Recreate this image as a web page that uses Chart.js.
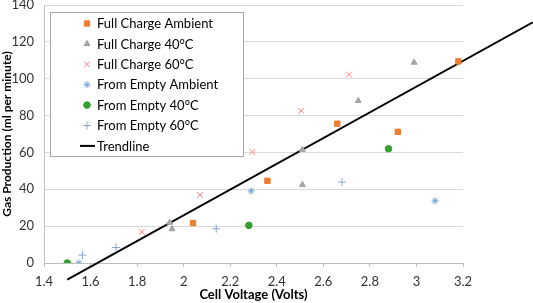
<!DOCTYPE html>
<html>
<head>
<meta charset="utf-8">
<script src="https://cdn.jsdelivr.net/npm/chart.js@4/dist/chart.umd.min.js"></script>
<style>
  html, body { margin: 0; padding: 0; background: #fff; overflow: hidden; }
</style>
</head>
<body>
<canvas id="gasChart" width="533" height="303"></canvas>
<script>
// series: cell voltage (x) and gas production (y)
const fullChargeAmbientV = [2.04, 2.36, 2.66, 2.92, 3.18];
const fullChargeAmbientGas = [21.7, 44.6, 75.6, 71.2, 109.4];
const fullCharge40V = [1.94, 1.95, 2.51, 2.51, 2.75, 2.99];
const fullCharge40Gas = [22, 18.4, 61.5, 42.4, 88, 108.8];
const fullCharge60V = [1.82, 2.07, 2.295, 2.505, 2.71];
const fullCharge60Gas = [16.8, 37, 60.2, 82.6, 102.3];
const fromEmptyAmbientV = [1.55, 2.29, 3.08];
const fromEmptyAmbientGas = [0, 39.1, 33.7];
const fromEmpty40V = [1.50, 2.28, 2.88];
const fromEmpty40Gas = [0, 20.4, 62];
const fromEmpty60V = [1.565, 1.71, 2.14, 2.68];
const fromEmpty60Gas = [4.3, 8.4, 18.6, 43.9];
const trendV = [1.5, 3.5];
const trendGas = [-9, 130.6];

const xTicks = [1.4, 1.6, 1.8, 2.0, 2.2, 2.4, 2.6, 2.8, 3.0, 3.2];
const yTicks = [0, 20, 40, 60, 80, 100, 120, 140];

const FONT = 'Lato, "Liberation Sans", sans-serif';

function pts(xs, ys) {
    return xs.map((x, i) => ({ x: x, y: ys[i] }));
}

function markerSet(label, xs, ys, color, style, radius, border) {
    return {
        label: label,
        data: pts(xs, ys),
        showLine: false,
        pointStyle: style,
        pointRadius: radius,
        pointHoverRadius: radius,
        pointBackgroundColor: color,
        pointBorderColor: color,
        pointBorderWidth: border,
    };
}

const datasets = [
    markerSet('Full Charge Ambient', fullChargeAmbientV, fullChargeAmbientGas, '#ed7d31', 'rect', 3.8, 1),
    markerSet('Full Charge 40°C', fullCharge40V, fullCharge40Gas, '#a5a5a5', 'triangle', 3.5, 1),
    markerSet('Full Charge 60°C', fullCharge60V, fullCharge60Gas, '#ff7c80', 'crossRot', 4, 1),
    markerSet('From Empty Ambient', fromEmptyAmbientV, fromEmptyAmbientGas, '#6f9fd8', 'star', 3.5, 1),
    markerSet('From Empty 40°C', fromEmpty40V, fromEmpty40Gas, '#33a02c', 'circle', 3.3, 1),
    markerSet('From Empty 60°C', fromEmpty60V, fromEmpty60Gas, '#8aa4d0', 'cross', 4, 1),
    {
        label: 'Trendline',
        data: pts(trendV, trendGas),
        showLine: true,
        borderColor: '#000',
        borderWidth: 2,
        pointRadius: 0,
        clip: false,
    }
];

// legend box sitting inside the plot, like the original
const boxLegend = {
    id: 'boxLegend',
    afterDraw(chart) {
        const ctx = chart.ctx;
        ctx.save();
        ctx.fillStyle = '#fff';
        ctx.fillRect(50.5, 12.5, 193, 144);
        ctx.strokeStyle = '#a6a6a6';
        ctx.lineWidth = 1;
        ctx.strokeRect(50.5, 12.5, 193, 144);
        ctx.font = '13px ' + FONT;
        ctx.textBaseline = 'middle';
        chart.data.datasets.forEach((ds, i) => {
            const y = 23.5 + i * 20.4;
            if (ds.showLine) {
                ctx.strokeStyle = ds.borderColor;
                ctx.lineWidth = 2;
                ctx.beginPath();
                ctx.moveTo(80, y);
                ctx.lineTo(95, y);
                ctx.stroke();
            } else {
                ctx.fillStyle = ds.pointBackgroundColor;
                ctx.strokeStyle = ds.pointBorderColor;
                ctx.lineWidth = ds.pointBorderWidth;
                Chart.helpers.drawPoint(ctx, {
                    pointStyle: ds.pointStyle,
                    radius: ds.pointRadius,
                    borderWidth: ds.pointBorderWidth,
                    rotation: 0
                }, 87, y);
            }
            ctx.fillStyle = '#000';
            ctx.fillText(ds.label, 97, y + 0.5);
        });
        ctx.restore();
    }
};

new Chart(document.getElementById('gasChart'), {
    type: 'scatter',
    data: { datasets: datasets },
    plugins: [boxLegend],
    options: {
        responsive: false,
        animation: false,
        layout: { padding: { top: 5, right: 70, left: 0, bottom: 0 } },
        plugins: {
            legend: { display: false },
            tooltip: { enabled: false }
        },
        scales: {
            x: {
                type: 'linear',
                min: 1.4,
                max: 3.2,
                afterBuildTicks: (scale) => { scale.ticks = xTicks.map(v => ({ value: v })); },
                afterFit: (scale) => { scale.height = 40; scale.paddingLeft = 0; scale.paddingRight = 0; },
                ticks: {
                    color: '#333',
                    font: { family: FONT, size: 13 },
                    padding: 7,
                    maxRotation: 0,
                    callback: (v) => String(Number(v.toFixed(1)))
                },
                grid: { drawOnChartArea: false, drawTicks: true, tickLength: 4, color: '#bfbfbf' },
                border: { color: '#bfbfbf' },
                title: {
                    display: true,
                    text: 'Cell Voltage (Volts)',
                    color: '#000',
                    font: { family: FONT, size: 13, weight: 'bold' },
                    padding: 0
                }
            },
            y: {
                type: 'linear',
                min: 0,
                max: 140,
                afterBuildTicks: (scale) => { scale.ticks = yTicks.map(v => ({ value: v })); },
                afterFit: (scale) => { scale.width = 44; scale.paddingTop = 0; scale.paddingBottom = 0; },
                ticks: {
                    color: '#333',
                    font: { family: FONT, size: 13 },
                    padding: 10
                },
                grid: { color: '#d9d9d9', drawTicks: false },
                border: { color: '#bfbfbf' },
                title: {
                    display: true,
                    text: 'Gas Production (ml per minute)',
                    color: '#000',
                    font: { family: FONT, size: 12, weight: 'bold' },
                    padding: 0
                }
            }
        }
    }
});
</script>
</body>
</html>
